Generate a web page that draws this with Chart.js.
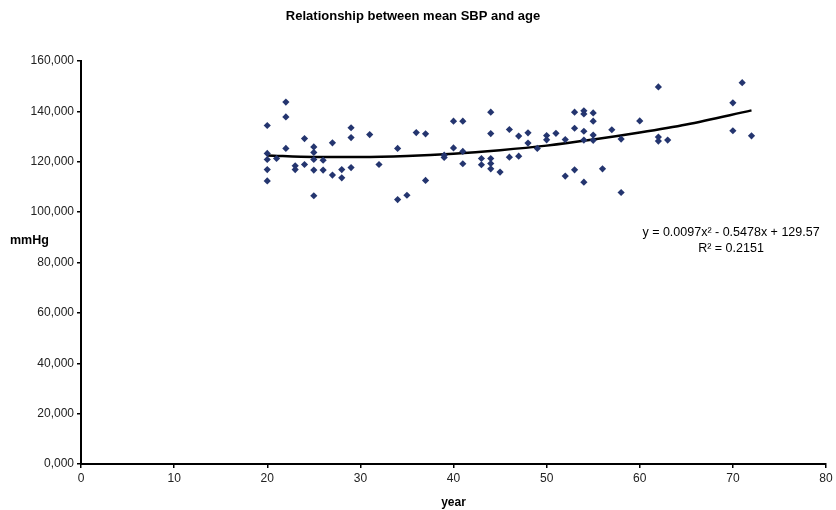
<!DOCTYPE html>
<html>
<head>
<meta charset="utf-8">
<script src="https://cdn.jsdelivr.net/npm/chart.js@4.4.1/dist/chart.umd.min.js"></script>
<style>
  html, body { margin: 0; padding: 0; background: #fff; }
  #wrap { width: 836px; height: 510px; }
</style>
</head>
<body>
<div id="wrap"><canvas id="chart-sbp"></canvas></div>
<script>
// mean SBP (mmHg) by age
var ages = [20, 20, 20, 20, 20, 21, 22, 22, 22, 23, 23, 24, 24,
  25, 25, 25, 25, 25, 26, 26, 27, 27, 28, 28, 29, 29, 29, 31, 32,
  34, 34, 35, 36, 37, 37, 39, 39, 40, 40, 41, 41, 41, 43, 43,
  44, 44, 44, 44, 44, 45, 46, 46, 47, 47, 48, 48, 49, 50, 50, 51,
  52, 52, 53, 53, 53, 54, 54, 54, 54, 54, 55, 55, 55, 55, 56, 57,
  58, 58, 60, 62, 62, 62, 63, 70, 70, 71, 72];
var sbp = [134.4, 123.3, 120.9, 116.9, 112.4, 121.3, 143.7, 137.8, 125.3, 118.4, 116.9, 129.2, 118.9,
  125.9, 123.7, 120.9, 116.7, 106.5, 120.6, 116.7, 127.5, 114.7, 116.9, 113.6, 133.5, 129.6, 117.7, 130.8, 118.9,
  125.3, 105.0, 106.7, 131.6, 131.1, 112.6, 122.6, 121.7, 136.1, 125.5, 136.1, 124.1, 119.2, 121.3, 118.8,
  139.7, 131.2, 121.3, 119.3, 117.2, 115.9, 132.8, 121.8, 130.2, 122.2, 131.5, 127.4, 125.3, 130.4, 128.7, 131.3,
  128.8, 114.3, 139.7, 133.3, 116.8, 140.2, 139.0, 132.1, 128.6, 111.9, 139.4, 136.1, 130.6, 128.5, 117.2, 132.7,
  129.0, 107.8, 136.2, 149.7, 129.8, 128.2, 128.6, 143.4, 132.3, 151.4, 130.3];

// polynomial trendline, points
var trendAges = [20, 25, 30, 35, 40, 45, 50, 55, 60, 65, 72];
var trendSbp = [122.5, 121.9, 121.9, 122.3, 123.2, 124.6, 126.4, 128.8, 131.6, 134.8, 140.4];

var eqLines = ["y = 0.0097x\u00b2 - 0.5478x + 129.57", "R\u00b2 = 0.2151"];

var fontFam = "'Liberation Sans', Arial, Helvetica, sans-serif";

var points = ages.map(function (a, i) { return { x: a, y: sbp[i] }; });
var trend = trendAges.map(function (a, i) { return { x: a, y: trendSbp[i] }; });

var extraText = {
  id: "extraText",
  afterDraw: function (chart) {
    var ctx = chart.ctx;
    var xs = chart.scales.x, ys = chart.scales.y;
    ctx.save();
    ctx.fillStyle = "#000";
    ctx.textBaseline = "middle";
    // y axis title, horizontal like the original
    ctx.font = "bold 12.5px " + fontFam;
    ctx.textAlign = "left";
    ctx.fillText("mmHg", 10, 241);
    // trendline label
    ctx.font = "12.5px " + fontFam;
    ctx.textAlign = "center";
    var cx = xs.getPixelForValue(69.8);
    ctx.fillText(eqLines[0], cx, ys.getPixelForValue(92));
    ctx.fillText(eqLines[1], cx, ys.getPixelForValue(85.6));
    ctx.restore();
  }
};

new Chart(document.getElementById("chart-sbp"), {
  type: "scatter",
  data: {
    datasets: [
      {
        label: "mean SBP",
        data: points,
        pointStyle: "rectRot",
        pointRadius: 3.6,
        pointHoverRadius: 3.6,
        backgroundColor: "#24356f",
        borderColor: "#24356f",
        borderWidth: 0,
      },
      {
        label: "trend",
        type: "line",
        data: trend,
        borderColor: "#000",
        borderWidth: 2.5,
        pointRadius: 0,
        cubicInterpolationMode: "monotone",
        fill: false,
      },
    ],
  },
  options: {
    responsive: true,
    maintainAspectRatio: false,
    animation: false,
    layout: { padding: { left: 0, right: 10, top: 0, bottom: 0 } },
    plugins: {
      legend: { display: false },
      tooltip: { enabled: false },
      title: {
        display: true,
        text: "Relationship between mean SBP and age",
        color: "#000",
        font: { family: fontFam, size: 13, weight: "bold" },
        padding: { top: 9, bottom: 36.4 },
      },
    },
    scales: {
      x: {
        type: "linear",
        min: 0,
        max: 80,
        ticks: {
          stepSize: 10,
          color: "#222",
          font: { family: fontFam, size: 12 },
          padding: 3,
          maxRotation: 0,
        },
        grid: { display: true, drawOnChartArea: false, drawTicks: true, tickLength: 4, color: "#000", lineWidth: 1.5 },
        border: { color: "#000", width: 2 },
        title: {
          display: true,
          text: "year",
          color: "#000",
          font: { family: fontFam, size: 12, weight: "bold" },
          padding: { top: 3, bottom: 0 },
        },
        afterFit: function (s) { s.height = 46; },
      },
      y: {
        min: 0,
        max: 160,
        ticks: {
          stepSize: 20,
          color: "#222",
          font: { family: fontFam, size: 12 },
          padding: 3,
          callback: function (v) { return v.toFixed(3).replace(".", ","); },
        },
        grid: { display: true, drawOnChartArea: false, drawTicks: true, tickLength: 4, color: "#000", lineWidth: 1.5 },
        border: { color: "#000", width: 2 },
        afterFit: function (s) { s.width = 81; },
      },
    },
  },
  plugins: [extraText],
});
</script>
</body>
</html>
